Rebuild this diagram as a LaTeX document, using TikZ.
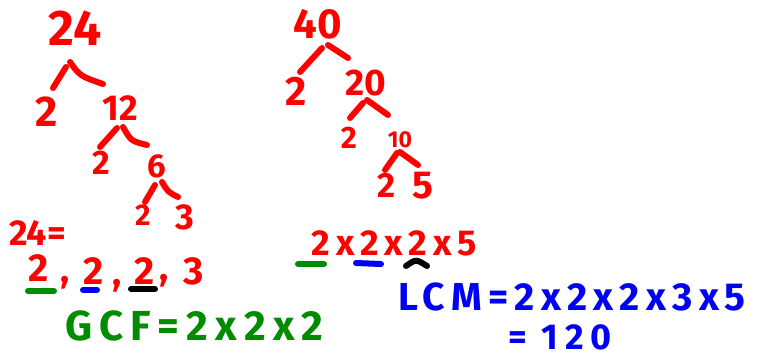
\documentclass[tikz,border=0pt]{standalone}
\usepackage{fontspec}
\setmainfont{Fira Sans}
\definecolor{mred}{RGB}{255,0,0}
\definecolor{mgreen}{RGB}{0,140,0}
\definecolor{mblue}{RGB}{0,0,245}
\newcommand\fsz[1]{\fontsize{#1}{#1}\selectfont\bfseries}
\newcommand\spc[1]{\addfontfeatures{LetterSpace=#1}}
\begin{document}
\begin{tikzpicture}[x=1pt,y=-1pt,
  num/.style={text=mred, inner sep=0pt},
  branch/.style={draw=mred, line width=6pt, line cap=round},
  uline/.style={line width=6pt, line cap=round}]
\useasboundingbox[fill=white] (0,0) rectangle (762,360);

% ---- left tree (24)
\node[num,font=\fsz{50}] (n24) at (75,28) {24};
\node[num,font=\fsz{43}] (a2) at (47,112) {2};
\node[num,font=\fsz{36}] (n12) at (120,108) {12};
\node[num,font=\fsz{34}] (b2) at (101,163) {2};
\node[num,font=\fsz{33}] (n6) at (157,166) {6};
\node[num,font=\fsz{30}] (c2) at (143,215) {2};
\node[num,font=\fsz{36}] (c3) at (185,217) {3};

\coordinate (p1) at (66,67);  \coordinate (p2) at (53,88);
\coordinate (p3) at (70,62);  \coordinate (p4) at (103,84);
\draw[branch] (p1) -- (p2);
\draw[branch] (p3) .. controls (80,76) .. (p4);
\coordinate (q1) at (117,128); \coordinate (q2) at (100,147);
\coordinate (q3) at (123,127); \coordinate (q4) at (147,145);
\draw[branch] (q1) -- (q2);
\draw[branch] (q3) .. controls (131,141) .. (q4);
\coordinate (s1) at (155,185); \coordinate (s2) at (145,202);
\coordinate (s3) at (162,182); \coordinate (s4) at (178,197);
\draw[branch] (s1) -- (s2);
\draw[branch] (s3) .. controls (168,192) .. (s4);

% ---- 24 = 2,2,2,3
\node[num,font=\fsz{36},anchor=west] (eq24) at (9,233) {24=};
\node[num,font=\fsz{39}] (r1) at (39,268) {2};
\node[num,font=\fsz{38}] (k1) at (65,283) {,};
\node[num,font=\fsz{39}] (r2) at (94,271) {2};
\node[num,font=\fsz{38}] (k2) at (117,286) {,};
\node[num,font=\fsz{39}] (r3) at (145,271) {2};
\node[num,font=\fsz{38}] (k3) at (164,281) {,};
\node[num,font=\fsz{39}] (r4) at (194,271) {3};
\draw[uline,mgreen] (28,291) -- (54,291);
\draw[uline,mblue] (83,290) -- (97,290);
\draw[uline,black] (131,289) -- (155,289);

% ---- GCF
\node[text=mgreen,inner sep=0pt,anchor=base west,font=\fsz{42}\spc{17}] (gcf) at (65,340) {GCF=2x2x2};

% ---- right tree (40)
\node[num,font=\fsz{42}] (n40) at (318,24) {40};
\node[num,font=\fsz{41}] (d2) at (296,91) {2};
\node[num,font=\fsz{37}] (n20) at (366,83) {20};
\node[num,font=\fsz{31}] (e2) at (349,138) {2};
\node[num,font=\fsz{23}] (n10) at (400,140) {10};
\node[num,font=\fsz{35}] (f2) at (387,185) {2};
\node[num,font=\fsz{39}] (f5) at (423,186) {5};

\coordinate (g1) at (322,48); \coordinate (g2) at (300,72);
\coordinate (g3) at (328,45); \coordinate (g4) at (348,58);
\draw[branch] (g1) -- (g2);
\draw[branch] (g3) -- (g4);
\coordinate (h1) at (363,103); \coordinate (h2) at (350,118);
\coordinate (h3) at (367,100); \coordinate (h4) at (388,115);
\draw[branch] (h1) -- (h2);
\draw[branch] (h3) -- (h4);
\coordinate (m1) at (397,153); \coordinate (m2) at (385,170);
\coordinate (m3) at (400,152); \coordinate (m4) at (418,165);
\draw[branch] (m1) -- (m2);
\draw[branch] (m3) -- (m4);

% ---- 2x2x2x5
\node[num,font=\fsz{36}\spc{16}] (prod40) at (394,243) {2x2x2x5};
\draw[uline,mgreen] (298,264) -- (324,264);
\draw[uline,mblue] (356,263) -- (381,264);
\draw[uline,black] (406,266) .. controls (416,259) .. (427,266);

% ---- LCM
\node[text=mblue,inner sep=0pt,anchor=base west,font=\fsz{39}\spc{16}] (lcm) at (398,310) {LCM=2x2x2x3x5};
\node[text=mblue,inner sep=0pt,anchor=base west,font=\fsz{36}\spc{18}] (res) at (508,349) {= 120};
\end{tikzpicture}
\end{document}
